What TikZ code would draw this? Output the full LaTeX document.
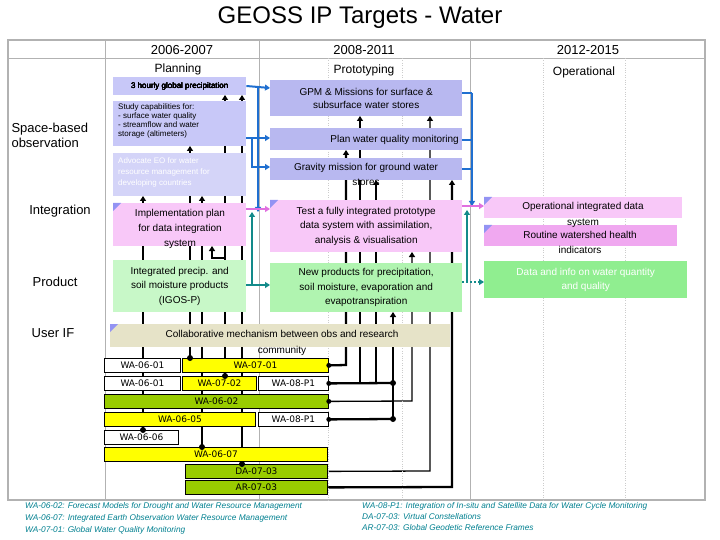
\documentclass[tikz,border=0pt]{standalone}
\usepackage{fontspec}
\setmainfont{Liberation Sans}
\newfontfamily\barfont{DejaVu Sans}
\usetikzlibrary{arrows.meta,backgrounds}
\definecolor{lav}{HTML}{C8C8F8}
\definecolor{lavd}{HTML}{B8B8F0}
\definecolor{lavl}{HTML}{D4D4F8}
\definecolor{pnk}{HTML}{F8C8F8}
\definecolor{pnkd}{HTML}{F0A8F0}
\definecolor{grn}{HTML}{C8F8C8}
\definecolor{grnd}{HTML}{B0F4B0}
\definecolor{grnb}{HTML}{90EE90}
\definecolor{beig}{HTML}{E6E3C8}
\definecolor{ylw}{HTML}{FFFF00}
\definecolor{olv}{HTML}{99CC00}
\definecolor{blu}{HTML}{1F6FD0}
\definecolor{tea}{HTML}{138A8A}
\definecolor{pnkl}{HTML}{E070E0}
\definecolor{fnt}{HTML}{007F8F}
\newcommand{\bx}[6]{\node[fill=#6,minimum width={(#4-#2)*1pt},minimum height={(#5-#3)*1pt},inner sep=0,anchor=north west] (#1) at (#2,#3) {};}
\newcommand{\tri}[1]{\fill[lavd!80!blue] (#1.north west) -- ++(8,0) -- ++(-8,8) -- cycle;}
\begin{document}
\begin{tikzpicture}[x=1pt,y=-1pt,
  blk/.style={line width=2.3pt,-{Triangle[length=5pt,width=6pt]}},
  bl/.style={line width=2.3pt},
  blue/.style={blu,line width=2pt,-{Triangle[length=5pt,width=6pt]}},
  bluel/.style={blu,line width=2pt},
  pk/.style={pnkl,line width=2pt,-{Triangle[length=5pt,width=6pt]}},
  tl/.style={tea,line width=2pt,-{Triangle[length=5pt,width=6pt]}},
  bar/.style={draw=black,line width=0.8pt,inner sep=0,anchor=north west,minimum height=14pt,font=\barfont\fontsize{9}{9}\selectfont},
  dot/.style={circle,fill=black,inner sep=0,minimum size=6pt},
  t/.style={align=center,inner sep=0},
  fn/.style={font=\itshape\fontsize{8.3}{9.5}\selectfont,text=fnt,anchor=west,align=left,inner sep=0}]
\useasboundingbox (0,0) rectangle (720,540);
% frame
\draw[gray!60,line width=1.2pt] (8,40) rectangle (705,500);
\draw[gray!60,line width=0.8pt] (8,58) -- (705,58);
\foreach \x in {105,259,470} \draw[gray!60,line width=0.8pt] (\x,40) -- (\x,500);
\foreach \x in {328,402,543,625} \draw[gray!40,dotted] (\x,58) -- (\x,500);
\node[font=\fontsize{24}{24}\selectfont] (title) at (360,18) {GEOSS IP Targets - Water};
\node[font=\fontsize{13}{13}\selectfont] (h1) at (182,50) {2006-2007};
\node[font=\fontsize{13}{13}\selectfont] (h2) at (364,50) {2008-2011};
\node[font=\fontsize{13}{13}\selectfont] (h3) at (588,50) {2012-2015};
\node[font=\fontsize{12}{12}\selectfont] (p1) at (178,69) {Planning};
\node[font=\fontsize{12}{12}\selectfont] (p2) at (364,70) {Prototyping};
\node[font=\fontsize{12}{12}\selectfont] (p3) at (584,72) {Operational};
\node[font=\fontsize{13}{15}\selectfont,align=left,anchor=west] (r1) at (8,135) {Space-based\\observation};
\node[font=\fontsize{13}{13}\selectfont] (r2) at (60,211) {Integration};
\node[font=\fontsize{13}{13}\selectfont] (r3) at (55,282) {Product};
\node[font=\fontsize{13}{13}\selectfont] (r4) at (53,333) {User IF};
% bars
\node[bar,fill=white,minimum width=76pt] (b1a) at (104,358) {WA-06-01};
\node[bar,fill=ylw,minimum width=146pt] (b1b) at (182,358) {WA-07-01};
\node[bar,fill=white,minimum width=76pt] (b2a) at (104,376) {WA-06-01};
\node[bar,fill=ylw,minimum width=74pt] (b2b) at (182,376) {WA-07-02};
\node[bar,fill=white,minimum width=70pt] (b2c) at (258,376) {WA-08-P1};
\node[bar,fill=olv,minimum width=224pt] (b3) at (104,394) {WA-06-02};
\node[bar,fill=ylw,minimum width=151pt] (b4a) at (104,412) {WA-06-05};
\node[bar,fill=white,minimum width=70pt] (b4b) at (258,412) {WA-08-P1};
\node[bar,fill=white,minimum width=74pt] (b5) at (104,430) {WA-06-06};
\node[bar,fill=ylw,minimum width=223pt] (b6) at (104,447) {WA-06-07};
\node[bar,fill=olv,minimum width=142pt] (b7) at (185,464) {DA-07-03};
\node[bar,fill=olv,minimum width=142pt] (b8) at (185,480) {AR-07-03};
% black connectors (behind bars and boxes)
\begin{scope}[on background layer]
\draw[blk] (b5.north -| 143,0) -- (143,196);
\draw[blk] (b1b.north -| 190,0) -- (190,146);
\draw[blk] (b6.north -| 202,0) -- (202,196);
\draw[blk] (b2b.north -| 225,0) -- (225,95);
\draw[blk] (225,258) -- (212,258) -- (212,246);
\draw[blk] (b7.north -| 242,0) -- (242,95);
\draw[blk] (b1b.east) -- (346,365) -- (346,150);
\draw[bl] (b2c.east) -- (393,383);
\draw[bl] (b4b.east) -- (393,419);
\draw[blk] (393,419) -- (393,312);
\draw[blk] (360,383) -- (360,116);
\draw[blk] (376,383) -- (376,180);
\draw[blk,line width=1.3pt] (b3.east) -- (412,401) -- (412,252);
\draw[blk,line width=1.3pt] (b7.east) -- (430,471) -- (430,116);
\draw[blk] (b8.east) -- (452,487) -- (452,180);
\end{scope}
\node[dot] (d1) at (143,430) {};
\node[dot] (d2) at (190,358) {};
\node[dot] (d3) at (202,447) {};
\node[dot] (d4) at (225,376) {};
\node[dot] (d5) at (242,464) {};
\node[dot] (d6) at (393,383) {};
\node[dot] (d7) at (393,419) {};
\foreach \n in {b1b,b2c,b3,b4b} \fill (\n.east) circle (2.5pt);
% boxes
\bx{a1}{113}{77}{246}{95}{lav}
\bx{a2}{113}{101}{246}{146}{lav}
\bx{a3}{113}{153}{246}{196}{lavl}
\bx{g1}{270}{80}{462}{116}{lavd}
\bx{g2}{270}{128}{462}{150}{lavd}
\bx{g3}{270}{158}{462}{180}{lavd}
\bx{i1}{113}{203}{246}{246}{pnk}
\bx{i2}{270}{200}{462}{252}{pnk}
\bx{p1b}{113}{260}{246}{312}{grn}
\bx{p2b}{270}{263}{462}{312}{grnd}
\bx{o1}{484}{197}{682}{218}{pnk}
\bx{o2}{484}{225}{677}{246}{pnkd}
\bx{o3}{484}{261}{687}{298}{grnb}
\bx{u1}{110}{324}{450}{347}{beig}
\foreach \n in {i1,i2,o1,o2,u1} \tri{\n}
% box texts
\node[t,font=\fontsize{8}{9}\selectfont] (ta1) at (a1.center) {3 hourly global precipitation};
\node[t,font=\fontsize{8}{9}\selectfont,align=left,anchor=north west] (ta2) at (118,104) {Study capabilities for:\\- surface water quality\\- streamflow and water\\storage (altimeters)};
\node[t,font=\fontsize{8}{11}\selectfont,text=white,align=left,anchor=north west] (ta3) at (118,158) {Advocate EO for water\\resource management for\\developing countries};
\node[t,font=\fontsize{10}{13}\selectfont] (tg1) at (g1.center) {GPM \& Missions for surface \&\\subsurface water stores};
\node[t,font=\fontsize{10}{12}\selectfont,anchor=east] (tg2) at (459,140) {Plan water quality monitoring};
\node[t,font=\fontsize{10}{15}\selectfont,anchor=north] (tg3) at (366,163) {Gravity mission for ground water\\stores};
\node[t,font=\fontsize{10}{15}\selectfont,anchor=north] (ti1) at (180,209) {Implementation plan\\for data integration\\system};
\node[t,font=\fontsize{10}{14.5}\selectfont] (ti2) at (i2.center) {Test a fully integrated prototype\\data system with assimilation,\\analysis \& visualisation};
\node[t,font=\fontsize{10}{14.5}\selectfont] (tp1) at (p1b.center) {Integrated precip. and\\soil moisture products\\(IGOS-P)};
\node[t,font=\fontsize{10}{14.5}\selectfont] (tp2) at (p2b.center) {New products for precipitation,\\soil moisture, evaporation and\\evapotranspiration};
\node[t,font=\fontsize{10}{16}\selectfont,anchor=north] (to1) at (583,202) {Operational integrated data\\system};
\node[t,font=\fontsize{10}{15}\selectfont,anchor=north] (to2) at (580,231) {Routine watershed health\\indicators};
\node[t,font=\fontsize{10}{14.5}\selectfont,text=white] (to3) at (o3.center) {Data and info on water quantity\\and quality};
\node[t,font=\fontsize{10}{16}\selectfont,anchor=north] (tu1) at (282,330) {Collaborative mechanism between obs and research\\community};
% blue connectors
\draw[blue] (a1.east |- 0,86) -- (g1.west |- 0,88);
\draw[blue] (258,86) -- (258,212);
\draw[blue] (a2.east |- 0,138) -- (g2.west |- 0,138);
\draw[blue] (252,138) -- (252,167) -- (g3.west |- 0,167);
\draw[bluel] (g1.east |- 0,93) -- (472,93);
\draw[bluel] (g2.east |- 0,140) -- (472,140);
\draw[bluel] (g3.east |- 0,169) -- (472,169);
\draw[blue] (472,93) -- (472,206);
% pink connectors
\draw[pk] (i1.east |- 0,209) -- (i2.west |- 0,209);
\draw[pk] (i2.east |- 0,206) -- (o1.west |- 0,206);
% teal connectors
\draw[tl] (p1b.east |- 0,285) -- (p2b.west |- 0,285);
\draw[tl] (252,285) -- (252,212);
\draw[tl,dotted] (p2b.east |- 0,282) -- (o3.west |- 0,282);
\draw[tl] (467,282) -- (467,210);
% footnotes
\node[fn] (f1) at (25,506) {WA-06-02: Forecast Models for Drought and Water Resource Management};
\node[fn] (f2) at (25,518) {WA-06-07: Integrated Earth Observation Water Resource Management};
\node[fn] (f3) at (25,530) {WA-07-01: Global Water Quality Monitoring};
\node[fn] (f4) at (362,506) {WA-08-P1: Integration of In-situ and Satellite Data for Water Cycle Monitoring};
\node[fn] (f5) at (362,517) {DA-07-03: Virtual Constellations};
\node[fn] (f6) at (362,528) {AR-07-03: Global Geodetic Reference Frames};
\end{tikzpicture}
\end{document}
